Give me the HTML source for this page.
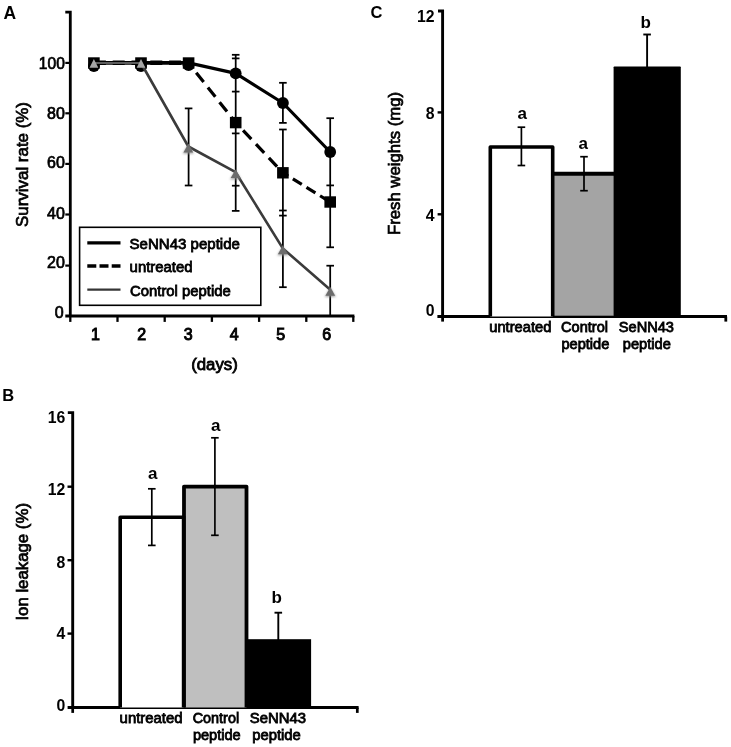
<!DOCTYPE html><html><head><meta charset="utf-8"><title>Figure</title>
<style>html,body{margin:0;padding:0;background:#fff;}svg{display:block;}text{font-family:"Liberation Sans", sans-serif;fill:#000;}</style></head><body>
<svg width="731" height="747" viewBox="0 0 731 747">
<defs><filter id="soft" x="0" y="0" width="731" height="747" filterUnits="userSpaceOnUse"><feGaussianBlur stdDeviation="0.45"/></filter></defs>
<rect width="731" height="747" fill="#fff"/>
<g filter="url(#soft)">
<text x="3.5" y="18.6" font-size="17.5" text-anchor="start" font-weight="bold">A</text>
<path d="M65.3 12.2H70.3V316M65.3 316H354.4" fill="none" stroke="#000" stroke-width="2.8"/>
<line x1="65.3" y1="62.9" x2="70" y2="62.9" stroke="#000" stroke-width="2.2"/>
<line x1="65.3" y1="113.3" x2="70" y2="113.3" stroke="#000" stroke-width="2.2"/>
<line x1="65.3" y1="163.9" x2="70" y2="163.9" stroke="#000" stroke-width="2.2"/>
<line x1="65.3" y1="214.5" x2="70" y2="214.5" stroke="#000" stroke-width="2.2"/>
<line x1="65.3" y1="265.6" x2="70" y2="265.6" stroke="#000" stroke-width="2.2"/>
<line x1="70.3" y1="316" x2="70.3" y2="321.9" stroke="#000" stroke-width="2.3"/>
<line x1="117.5" y1="316" x2="117.5" y2="321.9" stroke="#000" stroke-width="2.3"/>
<line x1="164.7" y1="316" x2="164.7" y2="321.9" stroke="#000" stroke-width="2.3"/>
<line x1="211.9" y1="316" x2="211.9" y2="321.9" stroke="#000" stroke-width="2.3"/>
<line x1="259.1" y1="316" x2="259.1" y2="321.9" stroke="#000" stroke-width="2.3"/>
<line x1="306.3" y1="316" x2="306.3" y2="321.9" stroke="#000" stroke-width="2.3"/>
<line x1="353.3" y1="316" x2="353.3" y2="321.9" stroke="#000" stroke-width="2.3"/>
<text x="64.8" y="68.7" font-size="16" text-anchor="end" textLength="26" lengthAdjust="spacingAndGlyphs" stroke="#000" stroke-width="0.7">100</text>
<text x="64.8" y="118.6" font-size="16" text-anchor="end" stroke="#000" stroke-width="0.7">80</text>
<text x="64.8" y="168.2" font-size="16" text-anchor="end" stroke="#000" stroke-width="0.7">60</text>
<text x="64.8" y="218.5" font-size="16" text-anchor="end" stroke="#000" stroke-width="0.7">40</text>
<text x="64.8" y="268.3" font-size="16" text-anchor="end" stroke="#000" stroke-width="0.7">20</text>
<text x="63.6" y="318.3" font-size="16" text-anchor="end" stroke="#000" stroke-width="0.7">0</text>
<text x="95.4" y="340.1" font-size="16" text-anchor="middle" stroke="#000" stroke-width="0.95">1</text>
<text x="141.8" y="340.1" font-size="16" text-anchor="middle" stroke="#000" stroke-width="0.95">2</text>
<text x="188.2" y="340.1" font-size="16" text-anchor="middle" stroke="#000" stroke-width="0.95">3</text>
<text x="234.3" y="340.1" font-size="16" text-anchor="middle" stroke="#000" stroke-width="0.95">4</text>
<text x="280.7" y="340.1" font-size="16" text-anchor="middle" stroke="#000" stroke-width="0.95">5</text>
<text x="326.7" y="340.1" font-size="16" text-anchor="middle" stroke="#000" stroke-width="0.95">6</text>
<text x="191.2" y="369.6" font-size="16" text-anchor="start" textLength="46.6" lengthAdjust="spacingAndGlyphs" stroke="#000" stroke-width="0.8">(days)</text>
<text x="27.8" y="227" font-size="16.5" text-anchor="start" textLength="125" lengthAdjust="spacingAndGlyphs" transform="rotate(-90 27.8 227)" stroke="#000" stroke-width="0.7">Survival rate (%)</text>
<line x1="188.6" y1="108.4" x2="188.6" y2="185.5" stroke="#000" stroke-width="1.75"/>
<line x1="184.79999999999998" y1="108.4" x2="192.4" y2="108.4" stroke="#000" stroke-width="1.75"/>
<line x1="184.79999999999998" y1="185.5" x2="192.4" y2="185.5" stroke="#000" stroke-width="1.75"/>
<line x1="235.7" y1="54.7" x2="235.7" y2="210.9" stroke="#000" stroke-width="1.75"/>
<line x1="231.89999999999998" y1="54.8" x2="239.5" y2="54.8" stroke="#000" stroke-width="1.75"/>
<line x1="231.89999999999998" y1="58.4" x2="239.5" y2="58.4" stroke="#000" stroke-width="1.75"/>
<line x1="231.89999999999998" y1="91.6" x2="239.5" y2="91.6" stroke="#000" stroke-width="1.75"/>
<line x1="231.89999999999998" y1="133.4" x2="239.5" y2="133.4" stroke="#000" stroke-width="1.75"/>
<line x1="231.89999999999998" y1="185.7" x2="239.5" y2="185.7" stroke="#000" stroke-width="1.75"/>
<line x1="231.89999999999998" y1="210.9" x2="239.5" y2="210.9" stroke="#000" stroke-width="1.75"/>
<line x1="282.9" y1="82.8" x2="282.9" y2="122.9" stroke="#000" stroke-width="1.75"/>
<line x1="279.09999999999997" y1="82.8" x2="286.7" y2="82.8" stroke="#000" stroke-width="1.75"/>
<line x1="279.09999999999997" y1="122.9" x2="286.7" y2="122.9" stroke="#000" stroke-width="1.75"/>
<line x1="282.9" y1="129.5" x2="282.9" y2="287.2" stroke="#000" stroke-width="1.75"/>
<line x1="279.09999999999997" y1="129.5" x2="286.7" y2="129.5" stroke="#000" stroke-width="1.75"/>
<line x1="279.09999999999997" y1="210.5" x2="286.7" y2="210.5" stroke="#000" stroke-width="1.75"/>
<line x1="279.09999999999997" y1="215.6" x2="286.7" y2="215.6" stroke="#000" stroke-width="1.75"/>
<line x1="279.09999999999997" y1="287.2" x2="286.7" y2="287.2" stroke="#000" stroke-width="1.75"/>
<line x1="330.2" y1="118.2" x2="330.2" y2="247.3" stroke="#000" stroke-width="1.75"/>
<line x1="326.4" y1="118.2" x2="334.0" y2="118.2" stroke="#000" stroke-width="1.75"/>
<line x1="326.4" y1="185.4" x2="334.0" y2="185.4" stroke="#000" stroke-width="1.75"/>
<line x1="326.4" y1="247.3" x2="334.0" y2="247.3" stroke="#000" stroke-width="1.75"/>
<line x1="330.2" y1="265.7" x2="330.2" y2="316" stroke="#000" stroke-width="1.75"/>
<line x1="326.4" y1="265.7" x2="334.0" y2="265.7" stroke="#000" stroke-width="1.75"/>
<polyline points="93.9,62.8 141.0,62.8 188.6,62.9" fill="none" stroke="#000" stroke-width="3.7"/>
<polyline points="188.6,62.9 235.7,73.4 282.9,103 330.2,152" fill="none" stroke="#000" stroke-width="3.2" stroke-linejoin="round"/>
<circle cx="93.9" cy="66.1" r="5.9" fill="#000"/>
<circle cx="141.0" cy="66.1" r="5.9" fill="#000"/>
<circle cx="188.6" cy="65.2" r="5.9" fill="#000"/>
<circle cx="235.7" cy="73.4" r="5.9" fill="#000"/>
<circle cx="282.9" cy="103" r="5.9" fill="#000"/>
<circle cx="330.2" cy="152" r="5.9" fill="#000"/>
<polyline points="93.9,62.7 141,62.7 188.6,62.8" fill="none" stroke="#000" stroke-width="4.6" stroke-dasharray="12 6.8"/>
<line x1="188.6" y1="63" x2="235.7" y2="122.6" stroke="#000" stroke-width="3.2" stroke-dasharray="12 6.8" stroke-dashoffset="6.5"/>
<line x1="235.7" y1="122.6" x2="282.9" y2="172.8" stroke="#000" stroke-width="3.2" stroke-dasharray="12 6.8" stroke-dashoffset="8.0"/>
<line x1="282.9" y1="172.8" x2="330.2" y2="202" stroke="#000" stroke-width="3.2" stroke-dasharray="10.5 5.5" stroke-dashoffset="4.3"/>
<rect x="88.10000000000001" y="57.3" width="11.6" height="11.4" fill="#000"/>
<rect x="135.2" y="57.3" width="11.6" height="11.4" fill="#000"/>
<rect x="182.79999999999998" y="57.3" width="11.6" height="11.4" fill="#000"/>
<rect x="229.89999999999998" y="116.89999999999999" width="11.6" height="11.4" fill="#000"/>
<rect x="277.09999999999997" y="167.10000000000002" width="11.6" height="11.4" fill="#000"/>
<rect x="324.4" y="196.3" width="11.6" height="11.4" fill="#000"/>
<polyline points="141.0,63 188.3,146.5 235.6,172.2 282.8,248.4 330.3,289.8" fill="none" stroke="#3a3a3a" stroke-width="2.6" stroke-linejoin="round"/>
<line x1="93.9" y1="62.9" x2="141" y2="62.9" stroke="#7c7c7c" stroke-width="1.5"/>
<defs><filter id="sh" x="-50%" y="-50%" width="200%" height="200%"><feGaussianBlur stdDeviation="1.3"/></filter></defs>
<path d="M93.9 58.900000000000006L98.30000000000001 67.8H89.5Z" fill="#a6a6a6"/>
<path d="M141.0 58.900000000000006L145.4 67.8H136.6Z" fill="#a6a6a6"/>
<path d="M188.3 144.2L193.9 153.7H182.70000000000002Z" fill="#8a8a8a" opacity="0.75" filter="url(#sh)"/>
<path d="M188.3 143.7L193.20000000000002 152.39999999999998H183.4Z" fill="#6c6c6c"/>
<path d="M235.6 169.9L241.2 179.4H230.0Z" fill="#8a8a8a" opacity="0.75" filter="url(#sh)"/>
<path d="M235.6 169.4L240.5 178.1H230.7Z" fill="#6c6c6c"/>
<path d="M282.8 246.1L288.40000000000003 255.6H277.2Z" fill="#8a8a8a" opacity="0.75" filter="url(#sh)"/>
<path d="M282.8 245.6L287.7 254.29999999999998H277.90000000000003Z" fill="#6c6c6c"/>
<path d="M330.3 287.5L335.90000000000003 297.0H324.7Z" fill="#8a8a8a" opacity="0.75" filter="url(#sh)"/>
<path d="M330.3 287.0L335.2 295.7H325.40000000000003Z" fill="#6c6c6c"/>
<rect x="79.6" y="227.3" width="181.2" height="78" fill="#fff" stroke="#000" stroke-width="1.6"/>
<line x1="87.3" y1="242.9" x2="120.5" y2="242.9" stroke="#000" stroke-width="3.3"/>
<line x1="87.3" y1="266" x2="120.5" y2="266" stroke="#000" stroke-width="3.3" stroke-dasharray="9 3.2"/>
<line x1="87.3" y1="289.6" x2="120.5" y2="289.6" stroke="#363636" stroke-width="2.3"/>
<text x="129.6" y="249.2" font-size="15" text-anchor="start" textLength="110.3" lengthAdjust="spacingAndGlyphs" stroke="#000" stroke-width="0.8">SeNN43 peptide</text>
<text x="129.6" y="272.2" font-size="15" text-anchor="start" textLength="63" lengthAdjust="spacingAndGlyphs" stroke="#000" stroke-width="0.8">untreated</text>
<text x="130" y="296" font-size="15" text-anchor="start" textLength="100.8" lengthAdjust="spacingAndGlyphs" stroke="#000" stroke-width="0.8">Control peptide</text>
<text x="370.5" y="18.4" font-size="16.5" text-anchor="start" font-weight="bold">C</text>
<path d="M438 11H442.6V316.5M437.4 316.5H727" fill="none" stroke="#000" stroke-width="2.9"/>
<line x1="437.6" y1="112.4" x2="442.6" y2="112.4" stroke="#000" stroke-width="2.4"/>
<line x1="437.6" y1="214.3" x2="442.6" y2="214.3" stroke="#000" stroke-width="2.4"/>
<line x1="442.6" y1="316.6" x2="442.6" y2="321.6" stroke="#000" stroke-width="2.8"/>
<line x1="725.8" y1="316.6" x2="725.8" y2="321.6" stroke="#000" stroke-width="2.8"/>
<text x="434.6" y="21.5" font-size="15.8" text-anchor="end" font-weight="bold">12</text>
<text x="434.6" y="118.5" font-size="15.8" text-anchor="end" font-weight="bold">8</text>
<text x="434.6" y="220.9" font-size="15.8" text-anchor="end" font-weight="bold">4</text>
<text x="434.6" y="316.40000000000003" font-size="15.8" text-anchor="end" font-weight="bold">0</text>
<text x="399.9" y="235" font-size="16.5" text-anchor="start" textLength="143" lengthAdjust="spacingAndGlyphs" transform="rotate(-90 399.9 235)" stroke="#000" stroke-width="0.7">Fresh weights (mg)</text>
<rect x="554" y="173.7" width="60.3" height="142" fill="#a4a4a4"/>
<line x1="552" y1="173.7" x2="614.3" y2="173.7" stroke="#000" stroke-width="4"/>
<path d="M490.3 316.6V147H552.7V316.6" fill="#fff" stroke="#000" stroke-width="3.6" stroke-linejoin="round"/>
<rect x="613.6" y="66.4" width="67.2" height="250" rx="0.8" fill="#000"/>
<line x1="521.4" y1="127.2" x2="521.4" y2="165.5" stroke="#000" stroke-width="1.7"/>
<line x1="517.6" y1="127.2" x2="525.1999999999999" y2="127.2" stroke="#000" stroke-width="1.7"/>
<line x1="517.6" y1="165.5" x2="525.1999999999999" y2="165.5" stroke="#000" stroke-width="1.7"/>
<line x1="584" y1="156.7" x2="584" y2="190.7" stroke="#000" stroke-width="1.7"/>
<line x1="580.2" y1="156.7" x2="587.8" y2="156.7" stroke="#000" stroke-width="1.7"/>
<line x1="580.2" y1="190.7" x2="587.8" y2="190.7" stroke="#000" stroke-width="1.7"/>
<line x1="647.1" y1="34.5" x2="647.1" y2="68" stroke="#000" stroke-width="1.9"/>
<line x1="643.3000000000001" y1="34.5" x2="650.9" y2="34.5" stroke="#000" stroke-width="1.9"/>
<text x="522.2" y="119" font-size="17" text-anchor="middle" font-weight="bold">a</text>
<text x="583.2" y="149" font-size="17" text-anchor="middle" font-weight="bold">a</text>
<text x="645.6" y="28.4" font-size="17" text-anchor="middle" font-weight="bold">b</text>
<text x="489.3" y="331.6" font-size="14.5" text-anchor="start" textLength="62" lengthAdjust="spacingAndGlyphs" stroke="#000" stroke-width="0.8">untreated</text>
<text x="561" y="331.6" font-size="14.5" text-anchor="start" textLength="47" lengthAdjust="spacingAndGlyphs" stroke="#000" stroke-width="0.8">Control</text>
<text x="561.4" y="349.4" font-size="14.5" text-anchor="start" textLength="48" lengthAdjust="spacingAndGlyphs" stroke="#000" stroke-width="0.8">peptide</text>
<text x="618.8" y="331.6" font-size="14.5" text-anchor="start" textLength="55.2" lengthAdjust="spacingAndGlyphs" stroke="#000" stroke-width="0.8">SeNN43</text>
<text x="622.8" y="349.4" font-size="14.5" text-anchor="start" textLength="48" lengthAdjust="spacingAndGlyphs" stroke="#000" stroke-width="0.8">peptide</text>
<text x="2.2" y="400.7" font-size="16.5" text-anchor="start" font-weight="bold">B</text>
<path d="M67.8 412.6H72.7V707.5M67.6 707.5H358.6" fill="none" stroke="#000" stroke-width="2.9"/>
<line x1="67.5" y1="486.7" x2="72.5" y2="486.7" stroke="#000" stroke-width="2.4"/>
<line x1="67.5" y1="560.2" x2="72.5" y2="560.2" stroke="#000" stroke-width="2.4"/>
<line x1="67.5" y1="633.6" x2="72.5" y2="633.6" stroke="#000" stroke-width="2.4"/>
<line x1="72.7" y1="707.6" x2="72.7" y2="712.9" stroke="#000" stroke-width="2.7"/>
<line x1="357.3" y1="707.6" x2="357.3" y2="712.9" stroke="#000" stroke-width="2.7"/>
<text x="65.3" y="422.59999999999997" font-size="15.8" text-anchor="end" font-weight="bold">16</text>
<text x="65.3" y="495.2" font-size="15.8" text-anchor="end" font-weight="bold">12</text>
<text x="65.3" y="567.6999999999999" font-size="15.8" text-anchor="end" font-weight="bold">8</text>
<text x="65.3" y="639.1999999999999" font-size="15.8" text-anchor="end" font-weight="bold">4</text>
<text x="65.3" y="711.3" font-size="15.8" text-anchor="end" font-weight="bold">0</text>
<text x="28.2" y="620.6" font-size="16" text-anchor="start" textLength="117.6" lengthAdjust="spacingAndGlyphs" transform="rotate(-90 28.2 620.6)" stroke="#000" stroke-width="0.7">Ion leakage (%)</text>
<rect x="246.5" y="639.2" width="64.6" height="69" fill="#000"/>
<path d="M184 707.6V486.6H246.5V707.6" fill="#bfbfbf" stroke="#000" stroke-width="3.8" stroke-linejoin="round"/>
<path d="M120.2 707.6V517.3H183.6V707.6" fill="#fff" stroke="#000" stroke-width="3.6" stroke-linejoin="round"/>
<line x1="151.8" y1="488.8" x2="151.8" y2="545.4" stroke="#000" stroke-width="1.7"/>
<line x1="148.0" y1="488.8" x2="155.60000000000002" y2="488.8" stroke="#000" stroke-width="1.7"/>
<line x1="148.0" y1="545.4" x2="155.60000000000002" y2="545.4" stroke="#000" stroke-width="1.7"/>
<line x1="214.9" y1="437.8" x2="214.9" y2="535.3" stroke="#000" stroke-width="1.7"/>
<line x1="211.1" y1="437.8" x2="218.70000000000002" y2="437.8" stroke="#000" stroke-width="1.7"/>
<line x1="211.1" y1="535.3" x2="218.70000000000002" y2="535.3" stroke="#000" stroke-width="1.7"/>
<line x1="278.3" y1="612.7" x2="278.3" y2="640" stroke="#000" stroke-width="1.9"/>
<line x1="274.5" y1="612.7" x2="282.1" y2="612.7" stroke="#000" stroke-width="1.9"/>
<text x="152.8" y="479.2" font-size="17" text-anchor="middle" font-weight="bold">a</text>
<text x="215.8" y="431" font-size="17" text-anchor="middle" font-weight="bold">a</text>
<text x="276.8" y="603.2" font-size="17" text-anchor="middle" font-weight="bold">b</text>
<text x="119.6" y="722.5" font-size="14.5" text-anchor="start" textLength="63" lengthAdjust="spacingAndGlyphs" stroke="#000" stroke-width="0.8">untreated</text>
<text x="192.7" y="722.5" font-size="14.5" text-anchor="start" textLength="46.4" lengthAdjust="spacingAndGlyphs" stroke="#000" stroke-width="0.8">Control</text>
<text x="192.9" y="739.7" font-size="14.5" text-anchor="start" textLength="47.8" lengthAdjust="spacingAndGlyphs" stroke="#000" stroke-width="0.8">peptide</text>
<text x="249.8" y="722.5" font-size="14.5" text-anchor="start" textLength="56.2" lengthAdjust="spacingAndGlyphs" stroke="#000" stroke-width="0.8">SeNN43</text>
<text x="252.2" y="739.7" font-size="14.5" text-anchor="start" textLength="48.6" lengthAdjust="spacingAndGlyphs" stroke="#000" stroke-width="0.8">peptide</text>
</g></svg></body></html>
